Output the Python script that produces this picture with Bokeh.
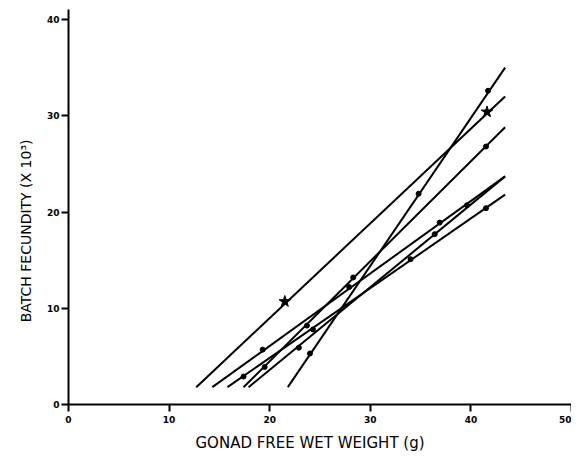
from bokeh.plotting import figure
from bokeh.models import Range1d, FixedTicker, Title
from bokeh.embed import file_html
from bokeh.resources import INLINE

# Regression lines (start/end) and plotted points
star_line_x = [12.7, 43.4]
star_line_y = [1.8, 32.0]
star_pts_x = [21.5, 41.6]
star_pts_y = [10.7, 30.4]

steep_line_x = [21.8, 43.4]
steep_line_y = [1.8, 35.0]
steep_pts_x = [24.0, 34.8, 41.7]
steep_pts_y = [5.3, 21.9, 32.6]

c_line_x = [17.4, 43.4]
c_line_y = [1.8, 28.8]
c_pts_x = [19.5, 23.7, 28.3, 41.5]
c_pts_y = [3.9, 8.2, 13.2, 26.8]

b_line_x = [15.8, 43.4]
b_line_y = [1.8, 21.8]
b_pts_x = [17.4, 34.0, 41.5]
b_pts_y = [2.9, 15.1, 20.4]

a_line_x = [14.3, 43.4]
a_line_y = [1.8, 23.7]
a_pts_x = [19.3, 27.9, 36.9]
a_pts_y = [5.7, 12.2, 18.9]

d_line_x = [17.9, 43.4]
d_line_y = [1.8, 23.7]
d_pts_x = [22.9, 24.3, 36.4, 39.6]
d_pts_y = [5.9, 7.8, 17.7, 20.7]

x_ticks = [0, 10, 20, 30, 40, 50]
y_ticks = [0, 10, 20, 30, 40]
x_title = "GONAD FREE WET WEIGHT (g)"
y_title = "BATCH FECUNDITY (X 10³)"

p = figure(width=571, height=457, output_backend="svg", toolbar_location=None,
           x_range=Range1d(0, 50.0), y_range=Range1d(0, 41.04),
           min_border_left=68, min_border_right=0, min_border_top=9, min_border_bottom=53)
p.outline_line_color = None
p.grid.visible = False
p.background_fill_color = "white"

for ax, ticks in ((p.xaxis, x_ticks), (p.yaxis, y_ticks)):
    ax.ticker = FixedTicker(ticks=ticks)
    ax.axis_line_width = 2
    ax.axis_line_color = "black"
    ax.major_tick_line_width = 2
    ax.major_tick_out = 7
    ax.major_tick_in = 0
    ax.minor_tick_line_color = None
    ax.major_label_text_font = "DejaVu Sans"
    ax.major_label_text_font_style = "bold"
    ax.major_label_text_font_size = "9px"
    ax.major_label_text_color = "black"
p.yaxis.major_label_standoff = 2
p.xaxis.major_label_standoff = 4

lines = [
    (star_line_x, star_line_y), (steep_line_x, steep_line_y), (c_line_x, c_line_y),
    (b_line_x, b_line_y), (a_line_x, a_line_y), (d_line_x, d_line_y),
]
for lx, ly in lines:
    p.line(lx, ly, line_color="black", line_width=2)

pts = [(steep_pts_x, steep_pts_y), (c_pts_x, c_pts_y), (b_pts_x, b_pts_y),
       (a_pts_x, a_pts_y), (d_pts_x, d_pts_y)]
for px, py in pts:
    p.scatter(px, py, marker="circle", size=5, fill_color="black", line_color="black")
p.scatter(star_pts_x, star_pts_y, marker="star", size=12, fill_color="black", line_color="black")

p.add_layout(Title(text=x_title, align="left", offset=127, standoff=12,
                   text_font="DejaVu Sans", text_font_size="15px",
                   text_font_style="normal", text_color="black"), "below")
p.add_layout(Title(text=y_title, align="right", offset=130, standoff=19,
                   text_font="DejaVu Sans", text_font_size="14px",
                   text_font_style="normal", text_color="black"), "left")

open("out.html", "w").write(file_html(p, INLINE))
